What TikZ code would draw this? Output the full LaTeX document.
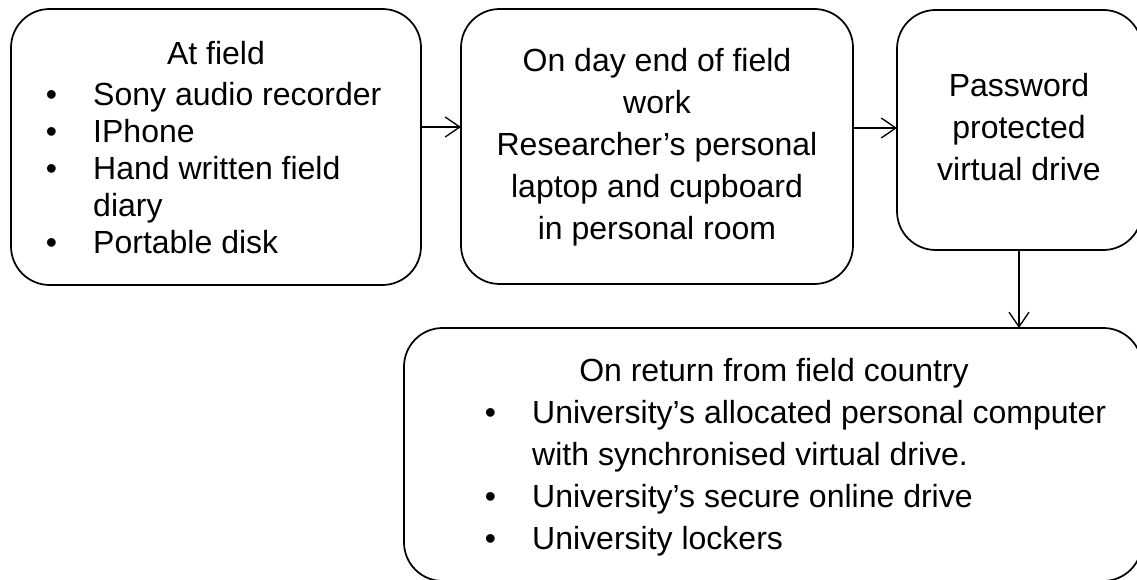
\documentclass[tikz,border=0pt]{standalone}
\usepackage{fontspec}
\setmainfont{Liberation Sans}
\usetikzlibrary{arrows.meta,calc}

\tikzset{
  stagebox/.style={draw, line width=1.3pt, rounded corners=29pt, inner sep=0pt, outer sep=0pt},
  flow/.style={line width=1pt, -{Straight Barb[length=11pt,width=15pt,line width=1pt]}},
  txt/.style={inner sep=0pt, font=\fontsize{24}{28}\selectfont}
}
\newcommand{\bul}{\makebox[35.6pt][l]{\textbullet}}
\newcommand{\nobul}{\hspace*{35.6pt}}

\begin{document}
\begin{tikzpicture}[x=0.75pt,y=0.75pt,yscale=-1,xscale=1]
            \useasboundingbox (0,0) rectangle (1137,580);
            \clip (0,0) rectangle (1137,580);

            %Rounded Rect [id:field]
            \node [stagebox, minimum width=307.5pt, minimum height=207pt] (field) at (216,147) {};
            %Rounded Rect [id:day]
            \node [stagebox, minimum width=294pt, minimum height=206.25pt] (day) at (657,146.5) {};
            %Rounded Rect [id:drive]
            \node [stagebox, minimum width=183.75pt, minimum height=180pt] (drive) at (1019.5,130) {};
            %Rounded Rect [id:ret]
            \node [stagebox, minimum width=553.5pt, minimum height=189.75pt] (ret) at (773,454.5) {};

            %Straight Lines [id:ab]
            \draw [flow] ($(field.east)+(0,-20)$) coordinate (ab) -- (ab -| day.west);
            %Straight Lines [id:bc]
            \draw [flow] ($(day.east)+(0,-18.5)$) coordinate (bc) -- (bc -| drive.west);
            %Straight Lines [id:cd]
            \draw [flow] ($(drive.south)+(-0.5,0)$) coordinate (cd) -- (cd |- ret.north);

            % Text Node
            \node [txt, anchor=base] (field-0) at (216,65) {At field};
            \foreach \t [count=\i] in {\bul Sony audio recorder, \bul IPhone, \bul Hand written field, \nobul diary, \bul Portable disk}
              \node [txt, anchor=base west] (field-\i) at (45.5,69+37*\i) {\t};
            % Text Node
            \foreach \t [count=\i] in {On day end of field, work, Researcher’s personal, laptop and cupboard, in personal room}
              \node [txt, anchor=base] (day-\i) at (657,30+42*\i) {\t};
            % Text Node
            \foreach \t [count=\i] in {Password, protected, virtual drive}
              \node [txt, anchor=base] (drive-\i) at (1019,55+42*\i) {\t};
            % Text Node
            \node [txt, anchor=base] (ret-0) at (774,382) {On return from field country};
            \foreach \t [count=\i] in {\bul University’s allocated personal computer, \nobul with synchronised virtual drive., \bul University’s secure online drive, \bul University lockers}
              \node [txt, anchor=base west] (ret-\i) at (484.5,381+42*\i) {\t};

\end{tikzpicture}
\end{document}
